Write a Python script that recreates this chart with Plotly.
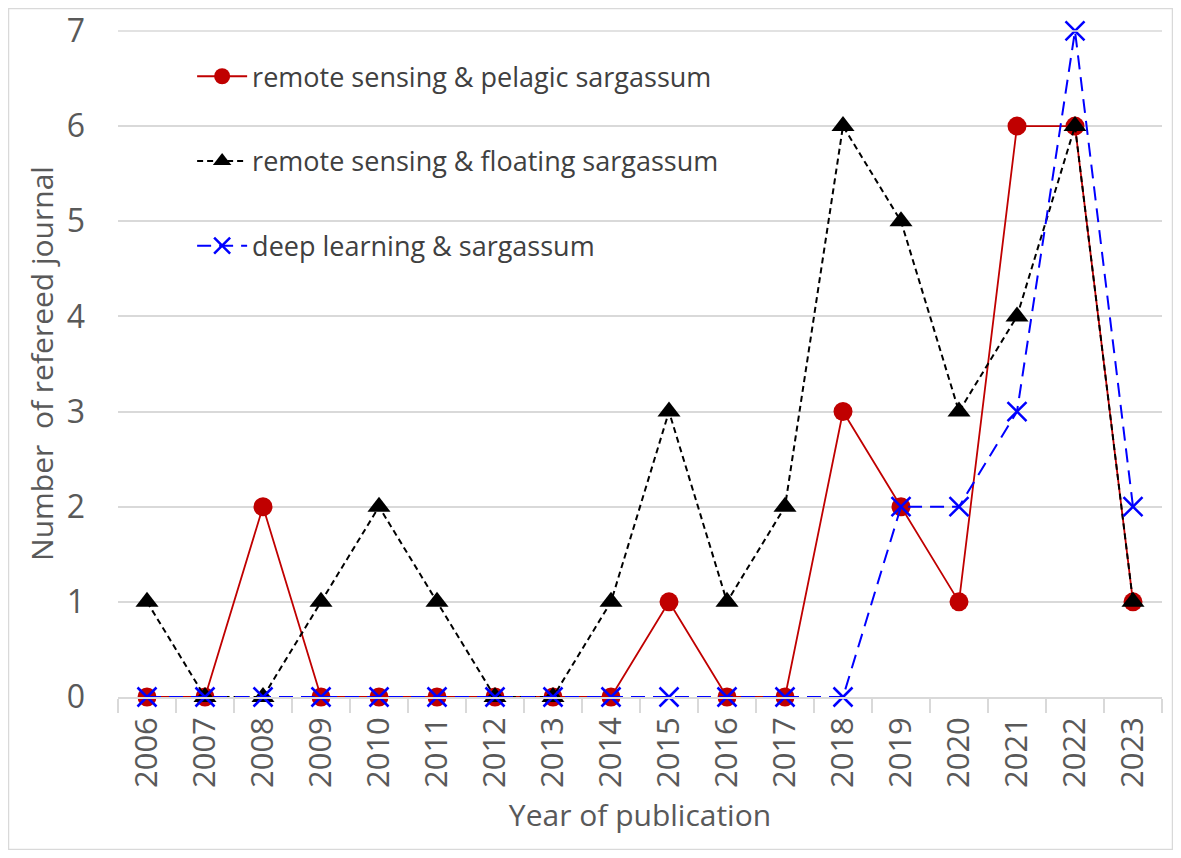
import plotly.graph_objects as go

years = [str(y) for y in range(2006, 2024)]
pelagic = [0, 0, 2, 0, 0, 0, 0, 0, 0, 1, 0, 0, 3, 2, 1, 6, 6, 1]
floating = [1, 0, 0, 1, 2, 1, 0, 0, 1, 3, 1, 2, 6, 5, 3, 4, 6, 1]
deep = [0, 0, 0, 0, 0, 0, 0, 0, 0, 0, 0, 0, 0, 2, 2, 3, 7, 2]
y_ticks = [0, 1, 2, 3, 4, 5, 6, 7]

FONT = "Open Sans"
GRAY = "#595959"
GRID = "#d9d9d9"

fig = go.Figure()

fig.add_trace(go.Scatter(
    x=years, y=pelagic, mode="lines+markers",
    name="remote sensing & pelagic sargassum",
    line=dict(color="#c00000", width=1.8),
    marker=dict(symbol="circle", size=19, color="#c00000"),
    legend="legend", showlegend=True, cliponaxis=False,
))
fig.add_trace(go.Scatter(
    x=years, y=floating, mode="lines+markers",
    name="remote sensing & floating sargassum",
    line=dict(color="black", width=2, dash="6px,4px"),
    marker=dict(symbol="triangle-up", size=20, color="black"),
    legend="legend2", showlegend=True, cliponaxis=False,
))
fig.add_trace(go.Scatter(
    x=years, y=deep, mode="lines+markers",
    name="deep learning & sargassum",
    line=dict(color="#0000ff", width=2, dash="14px,8px"),
    marker=dict(symbol="x-thin", size=19, color="#0000ff",
                line=dict(color="#0000ff", width=2.5)),
    legend="legend3", showlegend=True, cliponaxis=False,
))

leg = dict(font=dict(family=FONT, size=27, color="#404040"),
           bgcolor="rgba(0,0,0,0)", x=0.071, xanchor="left",
           yanchor="middle", itemwidth=50, visible=True)

# plot area: left 110, top 22, 1044 x 667 px (page has an 8px body margin)
fig.update_layout(
    width=1165, height=842,
    margin=dict(l=110, r=11, t=22, b=153, autoexpand=False),
    paper_bgcolor="white", plot_bgcolor="white",
    font=dict(family=FONT, color=GRAY),
    showlegend=True,
    legend=dict(leg, y=0.93),
    legend2=dict(leg, y=0.803),
    legend3=dict(leg, y=0.676),
    xaxis=dict(
        type="category", tickangle=-90, range=[-0.5, 17.5],
        automargin=False,
        tickfont=dict(family=FONT, size=31, color=GRAY),
        showgrid=False, showline=True, linecolor=GRID, linewidth=1.5,
        ticks="outside", tickson="boundaries", ticklen=14,
        tickcolor=GRID, tickwidth=1.5, ticklabelstandoff=6,
        title=dict(text="Year of publication",
                   font=dict(family=FONT, size=30, color=GRAY), standoff=18),
    ),
    yaxis=dict(
        range=[0, 7.01], tickmode="array", tickvals=y_ticks,
        zeroline=False, automargin=False,
        showgrid=True, gridcolor=GRID, gridwidth=1.5,
        tickfont=dict(family=FONT, size=32, color=GRAY),
        ticklabelstandoff=32,
        title=dict(text="Number  of refereed journal",
                   font=dict(family=FONT, size=30, color=GRAY), standoff=4),
    ),
    shapes=[
        # outer frame of the chart
        dict(type="rect", xref="paper", yref="paper",
             x0=(0.5 - 110) / 1044, x1=(1164.5 - 110) / 1044,
             y0=-(841.5 - 689) / 667, y1=1 + (22 - 0.5) / 667,
             line=dict(color=GRID, width=1.5), layer="below"),
        # top gridline (plotly drops the one on the plot edge)
        dict(type="line", xref="paper", yref="y", x0=0, x1=1,
             y0=y_ticks[-1], y1=y_ticks[-1],
             line=dict(color=GRID, width=1.5), layer="above"),
    ],
)

fig.write_html("out.html")
